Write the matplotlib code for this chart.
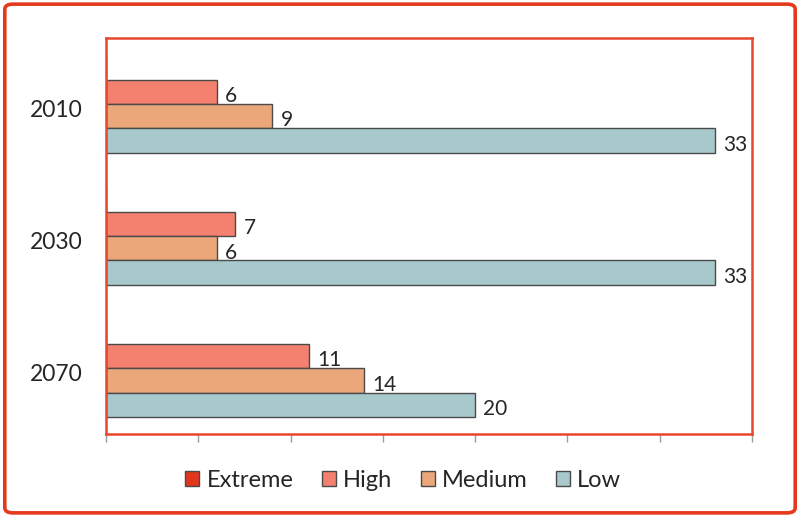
import matplotlib.pyplot as plt
import numpy as np
from matplotlib.patches import FancyBboxPatch

plt.rcParams['font.family'] = ['Lato', 'DejaVu Sans']

years = ['2010', '2030', '2070']
series = ['Extreme', 'High', 'Medium', 'Low']
extreme = [0, 0, 0]
high = [6, 7, 11]
medium = [9, 6, 14]
low = [33, 33, 20]
colors = ['#e2361c', '#f4806f', '#eba77a', '#a8c9cc']

fig = plt.figure(figsize=(8, 5.17), dpi=100)
ax = fig.add_axes([0.1325, 0.1596, 0.8075, 0.767])

# outer rounded frame
frame = FancyBboxPatch((0.006, 0.008), 0.988, 0.984, boxstyle='round,pad=0,rounding_size=0.01',
                       transform=fig.transFigure, fill=False, edgecolor='#e5391e', lw=2.6)
fig.patches.append(frame)

y = np.arange(len(years))
h = 0.1834
offsets = [-1.5 * h, -0.5 * h, 0.5 * h, 1.5 * h]
for vals, name, col, off in zip([extreme, high, medium, low], series, colors, offsets):
    bars = ax.barh(y + off, vals, height=h, color=col, edgecolor='#4a4a4a', lw=1.0, label=name)
    for b, v in zip(bars, vals):
        if v == 0:
            continue
        ax.annotate(str(v), (v, b.get_y() + h / 2), xytext=(6, -3), textcoords='offset points',
                    ha='left', va='center', fontsize=15, color='#262626')

ax.set_xlim(0, 35)
ax.set_ylim(2.5, -0.5)
ax.set_xticks(np.arange(0, 36, 5))
ax.set_xticklabels([])
ax.set_yticks(y + 0.03)
ax.set_yticklabels(years, fontsize=16.5, color='#262626')
ax.tick_params(axis='y', length=0, pad=17)
ax.tick_params(axis='x', length=6, color='#9a9a9a', width=1, direction='out')
for s in ax.spines.values():
    s.set_color('#e8472f')
    s.set_linewidth(1.8)

ax.legend(loc='center', bbox_to_anchor=(0.504, 0.07), bbox_transform=fig.transFigure, ncol=4,
          frameon=False, fontsize=17, handlelength=0.6, handleheight=0.6, handletextpad=0.3,
          columnspacing=1.2, labelcolor='#262626')

fig.savefig('out.png', dpi=100)
